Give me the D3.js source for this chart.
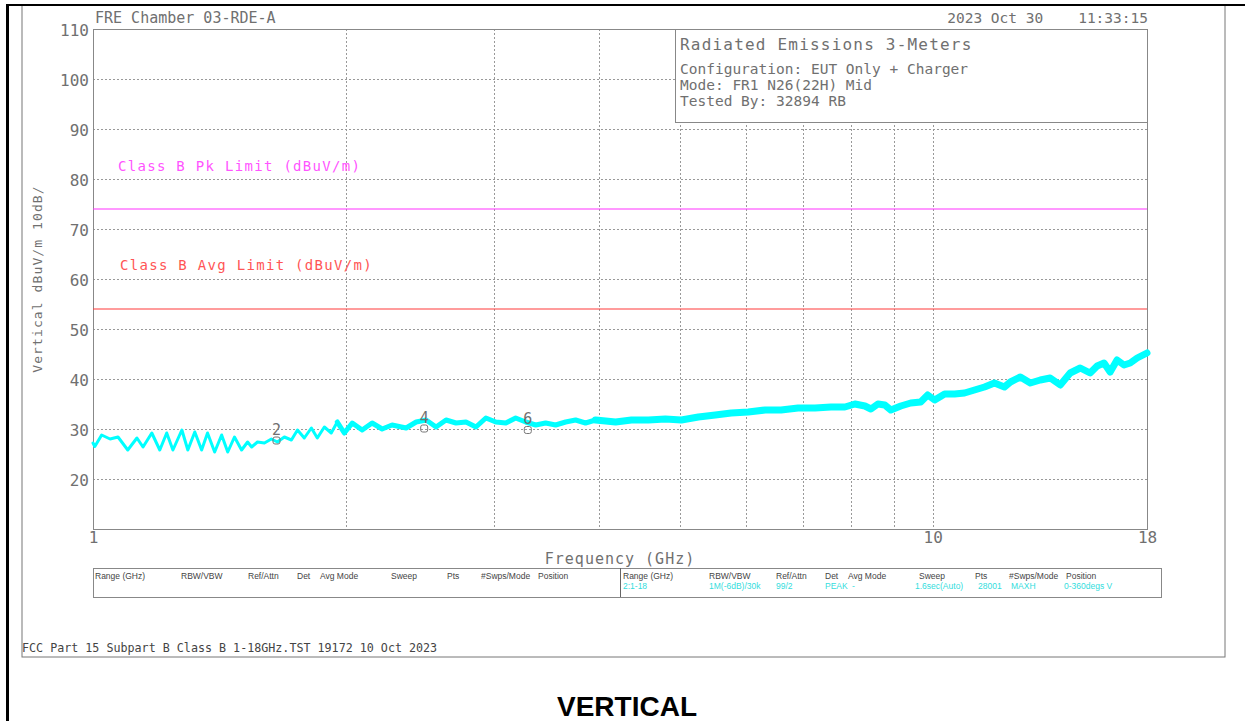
<!DOCTYPE html>
<html>
<head>
<meta charset="utf-8">
<script src="https://cdn.jsdelivr.net/npm/d3@7"></script>
<style>
  body { margin: 0; background: #fff; }
  svg { display: block; }
  .mono { font-family: "DejaVu Sans Mono", monospace; fill: #707070; }
  .grid line { stroke: #999; stroke-dasharray: 2,2; }
</style>
</head>
<body>
<script>
// ---- data ----
var yTicks = [20, 30, 40, 50, 60, 70, 80, 90, 100, 110];
var xGrid = [2, 3, 4, 5, 6, 7, 8, 9, 10];
var xLabels = [1, 10, 18];

var pkLimit = 74;   // dBuV/m
var avgLimit = 54;  // dBuV/m

// trace (GHz / dBuV/m)
var traceFreq = [1.0, 1.005, 1.024, 1.048, 1.071, 1.100, 1.128, 1.147, 1.175, 1.201,
  1.224, 1.245, 1.276, 1.297, 1.322, 1.347, 1.369, 1.396, 1.423, 1.447,
  1.474, 1.503, 1.528, 1.545, 1.570, 1.600, 1.631, 1.658, 1.690, 1.723,
  1.752, 1.785, 1.820, 1.850, 1.886, 1.922, 1.954, 1.992, 2.036, 2.092,
  2.150, 2.210, 2.271, 2.360, 2.426, 2.493, 2.562, 2.633, 2.706, 2.781,
  2.858, 2.937, 3.018, 3.102, 3.187, 3.276, 3.367, 3.460, 3.556, 3.655,
  3.756, 3.860, 3.967, 4.192, 4.378, 4.586, 4.805, 5.020, 5.260, 5.510,
  5.756, 6.030, 6.317, 6.599, 6.914, 7.243, 7.566, 7.862, 8.080, 8.305,
  8.443, 8.606, 8.770, 8.916, 9.163, 9.417, 9.677, 9.865, 10.055, 10.334,
  10.620, 10.914, 11.216, 11.528, 11.846, 12.175, 12.376, 12.719, 13.071, 13.434,
  13.805, 14.19, 14.58, 14.99, 15.40, 15.70, 16.00, 16.27, 16.58, 16.90,
  17.19, 17.52, 18.0];
var traceLevel = [27.2, 26.5, 28.8, 28.0, 28.4, 25.8, 28.2, 26.4, 29.2, 25.8,
  29.2, 25.8, 29.8, 25.8, 29.4, 25.8, 29.2, 25.4, 28.8, 25.4,
  28.4, 25.8, 27.4, 26.4, 27.4, 27.2, 28.0, 27.4, 28.4, 27.8,
  29.8, 28.2, 30.2, 28.2, 30.4, 29.2, 31.4, 29.2, 31.2, 29.8,
  31.2, 30.0, 30.8, 30.2, 31.4, 31.8, 30.4, 31.8, 31.2, 31.4,
  30.4, 32.2, 31.4, 31.2, 32.2, 31.4, 30.8, 31.2, 30.8, 31.4,
  31.8, 31.2, 31.8, 31.4, 31.8, 31.8, 32.0, 31.8, 32.4, 32.8,
  33.2, 33.4, 33.8, 33.8, 34.2, 34.2, 34.4, 34.4, 35.0, 34.6,
  34.0, 35.0, 34.8, 33.8, 34.6, 35.2, 35.4, 36.8, 35.8, 37.0,
  37.0, 37.2, 37.8, 38.4, 39.2, 38.4, 39.4, 40.4, 39.2, 39.8,
  40.2, 38.8, 41.2, 42.2, 41.2, 42.6, 43.2, 41.4, 43.8, 42.8,
  43.2, 44.2, 45.2];

var markerIds = ["2", "4", "6"];
var markerFreq = [1.654, 2.48, 3.295];
var markerLevel = [27.7, 30.1, 29.8];

var tableHeads = ["Range (GHz)", "RBW/VBW", "Ref/Attn", "Det", "Avg Mode", "Sweep", "Pts", "#Swps/Mode", "Position"];
var tableValues = ["2:1-18", "1M(-6dB)/30k", "99/2", "PEAK", "-", "1.6sec(Auto)", "28001", "MAXH", "0-360degs V"];

var infoTitle = "Radiated Emissions 3-Meters";
var infoLines = ["Configuration: EUT Only + Charger", "Mode: FR1 N26(22H) Mid", "Tested By: 32894 RB"];

// ---- layout ----
var W = 1245, H = 721;
var plotL = 93, plotR = 1147, plotT = 29, plotB = 529;

var svg = d3.select("body").append("svg")
  .attr("width", W)
  .attr("height", H);

// page frame
svg.append("rect").attr("x", 22).attr("y", 5).attr("width", 1203).attr("height", 652)
  .attr("fill", "none").attr("stroke", "#777").attr("stroke-width", 1);
svg.append("line").attr("x1", 7).attr("x2", W).attr("y1", 5).attr("y2", 5)
  .attr("stroke", "#000").attr("stroke-width", 2);
svg.append("line").attr("x1", 7.5).attr("x2", 7.5).attr("y1", 4).attr("y2", H)
  .attr("stroke", "#000").attr("stroke-width", 3);

var x = d3.scaleLog().domain([1, 18]).range([plotL, plotR]);
var y = d3.scaleLinear().domain([10, 110]).range([plotB, plotT]);

// grid
var grid = svg.append("g").attr("class", "grid");
grid.selectAll(".hg").data(yTicks.filter(function(d) { return d < 110; }))
  .enter().append("line")
  .attr("x1", plotL).attr("x2", plotR)
  .attr("y1", function(d) { return y(d) + 0.5; })
  .attr("y2", function(d) { return y(d) + 0.5; });
grid.selectAll(".vg").data(xGrid)
  .enter().append("line")
  .attr("y1", plotT).attr("y2", plotB)
  .attr("x1", function(d) { return Math.round(x(d)) + 0.5; })
  .attr("x2", function(d) { return Math.round(x(d)) + 0.5; });

// plot border
svg.append("rect").attr("x", plotL + 0.5).attr("y", plotT + 0.5)
  .attr("width", plotR - plotL).attr("height", plotB - plotT)
  .attr("fill", "none").attr("stroke", "#888");

// y axis labels
var yAxis = svg.append("g")
  .attr("transform", "translate(" + (plotL - 4) + ",0)")
  .call(d3.axisLeft(y).tickValues(yTicks).tickSize(0).tickPadding(0));
yAxis.select(".domain").remove();
yAxis.selectAll("text").attr("class", "mono").style("font-size", "16px")
  .attr("font-family", null).attr("fill", null).attr("dy", "0.38em");

// x axis labels
var xAxis = svg.append("g")
  .attr("transform", "translate(0," + (plotB + 2) + ")")
  .call(d3.axisBottom(x).tickValues(xLabels).tickFormat(d3.format("d")).tickSize(0).tickPadding(0));
xAxis.select(".domain").remove();
xAxis.selectAll("text").attr("class", "mono").style("font-size", "16px")
  .attr("font-family", null).attr("fill", null).attr("dy", "0.75em");

// axis titles
svg.append("text").attr("class", "mono")
  .attr("x", 620).attr("y", 564).attr("text-anchor", "middle")
  .style("font-size", "15px").style("letter-spacing", "1px")
  .text("Frequency (GHz)");
svg.append("text").attr("class", "mono")
  .attr("transform", "translate(42,279) rotate(-90)")
  .attr("text-anchor", "middle")
  .style("font-size", "13px").style("letter-spacing", "1.1px")
  .text("Vertical dBuV/m 10dB/");

// header
svg.append("text").attr("class", "mono")
  .attr("x", 95).attr("y", 23).style("font-size", "15px")
  .text("FRE Chamber 03-RDE-A");
svg.append("text").attr("class", "mono")
  .attr("x", 1148).attr("y", 23).attr("text-anchor", "end")
  .style("font-size", "14.5px").style("white-space", "pre")
  .text("2023 Oct 30    11:33:15");

// limit lines
svg.append("line").attr("x1", plotL).attr("x2", plotR)
  .attr("y1", y(pkLimit)).attr("y2", y(pkLimit))
  .style("stroke", "#ff33ff").style("stroke-width", "1.2px");
svg.append("line").attr("x1", plotL).attr("x2", plotR)
  .attr("y1", y(avgLimit)).attr("y2", y(avgLimit))
  .style("stroke", "#ff3b3b").style("stroke-width", "1.2px");
svg.append("text").attr("x", 118).attr("y", 171)
  .style("font-family", "DejaVu Sans Mono").style("font-size", "14px")
  .style("letter-spacing", "1.3px").attr("fill", "#ff55ff")
  .text("Class B Pk Limit (dBuV/m)");
svg.append("text").attr("x", 120).attr("y", 270)
  .style("font-family", "DejaVu Sans Mono").style("font-size", "14px")
  .style("letter-spacing", "1.3px").attr("fill", "#ff5555")
  .text("Class B Avg Limit (dBuV/m)");

// trace
var pts = traceFreq.map(function(f, i) { return [f, traceLevel[i]]; });
var line = d3.line()
  .x(function(d) { return x(d[0]); })
  .y(function(d) { return y(d[1]); });
var bands = [[0, 3], [1.95, 5], [3.9, 7]];
bands.forEach(function(b) {
  svg.append("path")
    .datum(pts.filter(function(d) { return d[0] >= b[0]; }))
    .attr("d", line)
    .attr("fill", "none")
    .attr("stroke", "#00ffff")
    .attr("stroke-width", b[1])
    .attr("stroke-linejoin", "round")
    .attr("stroke-linecap", "round");
});

// markers
var mk = svg.selectAll(".marker").data(markerIds).enter().append("g")
  .attr("transform", function(d, i) {
    return "translate(" + x(markerFreq[i]) + "," + y(markerLevel[i]) + ")";
  });
mk.append("rect").attr("x", -3.5).attr("y", -3.5).attr("width", 7).attr("height", 7)
  .attr("rx", 2).attr("fill", "none").attr("stroke", "#777");
mk.append("text").attr("class", "mono").attr("text-anchor", "middle")
  .attr("y", -6).style("font-size", "15px")
  .text(function(d) { return d; });

// info box
svg.append("rect").attr("x", 675.5).attr("y", 29.5).attr("width", 472).attr("height", 93)
  .attr("fill", "#fff").attr("stroke", "#888");
svg.append("text").attr("class", "mono")
  .attr("x", 680).attr("y", 50).style("font-size", "16px").style("letter-spacing", "1.2px")
  .text(infoTitle);
svg.selectAll(".info").data(infoLines).enter().append("text")
  .attr("class", "mono")
  .attr("x", 680).attr("y", function(d, i) { return 74 + i * 16; })
  .style("font-size", "14.5px")
  .text(function(d) { return d; });

// settings table
svg.append("rect").attr("x", 93.5).attr("y", 568.5).attr("width", 1068).attr("height", 29)
  .attr("fill", "none").attr("stroke", "#888");
svg.append("line").attr("x1", 620.5).attr("x2", 620.5).attr("y1", 568).attr("y2", 597)
  .attr("stroke", "#666");
var colX = [0, 86, 153, 202, 225, 296, 352, 386, 443];
[95, 623].forEach(function(x0) {
  svg.selectAll(null).data(tableHeads).enter().append("text")
    .attr("x", function(d, i) { return x0 + colX[i]; })
    .attr("y", 579)
    .style("font-family", "Liberation Sans, Arial").style("font-size", "8.5px")
    .attr("fill", "#444")
    .text(function(d) { return d; });
});
var valX = [0, 86, 153, 202, 229, 292, 355, 388, 441];
svg.selectAll(null).data(tableValues).enter().append("text")
  .attr("x", function(d, i) { return 623 + valX[i]; })
  .attr("y", 589)
  .style("font-family", "Liberation Sans, Arial").style("font-size", "8.5px")
  .attr("fill", "#33dddd")
  .text(function(d) { return d; });

// footer
svg.append("text").attr("x", 22).attr("y", 652)
  .style("font-family", "DejaVu Sans Mono").style("font-size", "11.7px")
  .attr("fill", "#444")
  .text("FCC Part 15 Subpart B Class B 1-18GHz.TST 19172 10 Oct 2023");

svg.append("text").attr("x", 627).attr("y", 716).attr("text-anchor", "middle")
  .style("font-family", "Liberation Sans, Arial").style("font-weight", "bold")
  .style("font-size", "28px").attr("fill", "#000")
  .text("VERTICAL");
</script>
</body>
</html>
